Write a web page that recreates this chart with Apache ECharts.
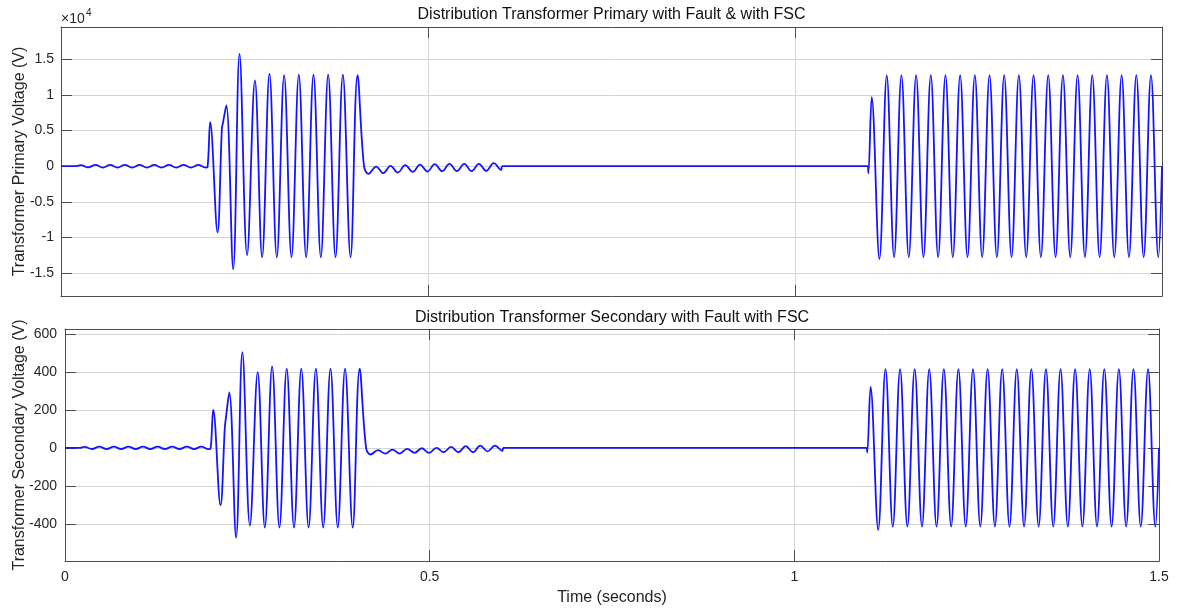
<!DOCTYPE html>
<html>
<head>
<meta charset="utf-8">
<title>Distribution Transformer with Fault & FSC</title>
<script src="https://cdn.jsdelivr.net/npm/echarts@6/dist/echarts.min.js"></script>
<style>
  html, body { margin: 0; padding: 0; background: #fff; }
  #chart { width: 1181px; height: 609px; }
</style>
</head>
<body>
<div id="chart"></div>
<script>
// ---- Waveform extrema (time in s, voltage in V) ----
// Pre-fault: small standing oscillation
const preFaultTime = [0, 0.020, 0.027, 0.037, 0.047, 0.057, 0.067, 0.077, 0.087, 0.097,
  0.107, 0.117, 0.127, 0.137, 0.147, 0.157, 0.167, 0.177, 0.187, 0.197];
const primaryPreFault = [0, 0, 160, -170, 180, -190, 180, -190, 180, -190,
  180, -190, 180, -190, 180, -190, 180, -190, 180, -200];
const secondaryPreFault = [0, 0, 5, -6, 6, -6, 6, -6, 6, -6,
  6, -6, 6, -6, 6, -6, 6, -6, 6, -7];

// Fault inception and full-voltage interval
const faultTime = [0.1995, 0.2032, 0.2132, 0.2192, 0.2207, 0.2252, 0.2346, 0.2432, 0.2535, 0.2642,
  0.2740, 0.2840, 0.2940, 0.3040, 0.3140, 0.3240, 0.3340, 0.3440, 0.3540, 0.3640,
  0.3740, 0.3840, 0.3945, 0.4040, 0.4128];
const primaryFault = [-150, 6170, -9250, 5300, 6100, 8500, -14440, 15740, -12480, 12000,
  -12760, 12940, -12760, 12760, -12760, 12800, -12760, 12800, -12760, 12800,
  -12760, 12800, -12760, 12760, 0];
const secondaryFault = [-5, 200, -303, 110, 160, 291, -472, 503, -409, 398,
  -419, 428, -419, 417, -419, 417, -419, 417, -419, 417,
  -419, 417, -419, 417, 0];

// Collapse: decaying residual ringing
const collapseTime = [0.4188, 0.4293, 0.4392, 0.4490, 0.4589, 0.4690, 0.4792, 0.4892, 0.4992, 0.5093,
  0.5193, 0.5293, 0.5394, 0.5494, 0.5594, 0.5694, 0.5794, 0.5895, 0.5995, 0.6005];
const primaryCollapse = [-1080, -50, -985, 40, -890, 135, -800, 230, -750, 275,
  -705, 320, -705, 320, -705, 320, -660, 415, -520, 0];
const secondaryCollapse = [-35, -12, -30, -9, -30, -5, -26, -2, -26, 0,
  -23, 5, -23, 9, -23, 12, -19, 12, -16, 0];

// Outage: zero voltage
const outageTime = [0.6005, 1.0995];
const outageValue = [0, 0];

// Reconnection
const reconnectTime = [1.0995, 1.1000, 1.1045, 1.1150, 1.1250, 1.1350, 1.1450, 1.1550, 1.1650, 1.1750,
  1.1850, 1.1950, 1.2050, 1.2150, 1.2250, 1.2350, 1.2450, 1.2550, 1.2650, 1.2750,
  1.2850, 1.2950, 1.3050, 1.3150, 1.3250, 1.3350, 1.3450, 1.3550, 1.3650, 1.3750,
  1.3850, 1.3950, 1.4050, 1.4150, 1.4250, 1.4350, 1.4450, 1.4550, 1.4650, 1.4750,
  1.4850, 1.4950, 1.5000];
const primaryReconnect = [0, -1000, 9670, -13000, 12700, -12760, 12750, -12760, 12750, -12760,
  12750, -12760, 12750, -12760, 12750, -12760, 12750, -12760, 12750, -12760,
  12750, -12760, 12750, -12760, 12750, -12760, 12750, -12760, 12750, -12760,
  12750, -12760, 12750, -12760, 12750, -12760, 12750, -12760, 12750, -12760,
  12750, -12760, 0];
const secondaryReconnect = [0, -25, 321, -431, 414, -414, 414, -414, 414, -414,
  414, -414, 414, -414, 414, -414, 414, -414, 414, -414,
  414, -414, 414, -414, 414, -414, 414, -414, 414, -414,
  414, -414, 414, -414, 414, -414, 414, -414, 414, -414,
  414, -414, 0];

// Axis ticks
const timeTicks = [0, 0.5, 1, 1.5];
const primaryTicks = [-15000, -10000, -5000, 0, 5000, 10000, 15000];
const secondaryTicks = [-400, -200, 0, 200, 400, 600];

const titles = ['Distribution Transformer Primary with Fault & with FSC',
  'Distribution Transformer Secondary with Fault with FSC'];
const yNames = ['Transformer Primary Voltage (V)', 'Transformer Secondary Voltage (V)'];
const xName = 'Time (seconds)';

// ---- helpers ----
const zip = (t, v) => t.map((x, i) => [x, v[i]]);
const FONT = "'Liberation Sans', Arial, Helvetica, sans-serif";
const AXIS_COLOR = '#4d4d4d';
const TEXT_COLOR = '#262626';
const GRID_COLOR = '#d4d4d4';
const WAVE_COLOR = '#1414ff';

const grids = [
  { left: 61, top: 27, width: 1101, height: 269, outerBoundsMode: 'none', containLabel: false },
  { left: 65, top: 329, width: 1094, height: 232, outerBoundsMode: 'none', containLabel: false }
];
const yRanges = [[-18180, 19490], [-595, 625]];
const yTicks = [primaryTicks, secondaryTicks];

const xAxes = [];
const yAxes = [];
grids.forEach((g, gi) => {
  const isBottom = gi === 1;
  xAxes.push({
    gridIndex: gi, type: 'value', position: 'bottom', min: 0, max: 1.5,
    axisLine: { show: true, onZero: false, lineStyle: { color: AXIS_COLOR, width: 1 } },
    axisTick: { show: true, inside: true, length: 11, customValues: timeTicks,
      lineStyle: { color: AXIS_COLOR } },
    axisLabel: { show: isBottom, customValues: timeTicks, fontSize: 14, color: TEXT_COLOR,
      fontFamily: FONT, margin: 9, formatter: v => String(v) },
    splitLine: { show: true, lineStyle: { color: GRID_COLOR, width: 1 } },
    name: isBottom ? xName : '', nameLocation: 'middle', nameGap: 29, nameMoveOverlap: false,
    nameTextStyle: { fontSize: 16, color: TEXT_COLOR, fontFamily: FONT }
  });
  xAxes.push({
    gridIndex: gi, type: 'value', position: 'top', min: 0, max: 1.5,
    axisLine: { show: true, onZero: false, lineStyle: { color: AXIS_COLOR, width: 1 } },
    axisTick: { show: true, inside: true, length: 11, customValues: timeTicks,
      lineStyle: { color: AXIS_COLOR } },
    axisLabel: { show: false }, splitLine: { show: false }
  });
  yAxes.push({
    gridIndex: gi, type: 'value', position: 'left', min: yRanges[gi][0], max: yRanges[gi][1],
    axisLine: { show: true, onZero: false, lineStyle: { color: AXIS_COLOR, width: 1 } },
    axisTick: { show: true, inside: true, length: 11, customValues: yTicks[gi],
      lineStyle: { color: AXIS_COLOR } },
    axisLabel: { show: true, customValues: yTicks[gi], fontSize: 14, color: TEXT_COLOR,
      fontFamily: FONT, margin: isBottom ? 8 : 7,
      formatter: v => gi === 0 ? String(v / 10000) : String(v) },
    splitLine: { show: true, lineStyle: { color: GRID_COLOR, width: 1 } },
    name: yNames[gi], nameLocation: 'middle', nameGap: isBottom ? 37 : 33, nameMoveOverlap: false,
    nameTextStyle: { fontSize: 16, color: TEXT_COLOR, fontFamily: FONT }
  });
  yAxes.push({
    gridIndex: gi, type: 'value', position: 'right', min: yRanges[gi][0], max: yRanges[gi][1],
    axisLine: { show: true, onZero: false, lineStyle: { color: AXIS_COLOR, width: 1 } },
    axisTick: { show: true, inside: true, length: 11, customValues: yTicks[gi],
      lineStyle: { color: AXIS_COLOR } },
    axisLabel: { show: false }, splitLine: { show: false }
  });
});

function waveSeries(gi, data, smooth) {
  return {
    type: 'line', xAxisIndex: gi * 2, yAxisIndex: gi * 2, data: data,
    smooth: smooth, showSymbol: false, symbol: 'none', clip: true,
    lineStyle: { color: WAVE_COLOR, width: 1.8 }, silent: true, z: 3
  };
}

const primaryEnergised = zip(preFaultTime, primaryPreFault)
  .concat(zip(faultTime, primaryFault), zip(collapseTime, primaryCollapse));
const secondaryEnergised = zip(preFaultTime, secondaryPreFault)
  .concat(zip(faultTime, secondaryFault), zip(collapseTime, secondaryCollapse));

const series = [
  waveSeries(0, primaryEnergised, 0.38),
  waveSeries(0, zip(outageTime, outageValue), false),
  waveSeries(0, zip(reconnectTime, primaryReconnect), 0.38),
  waveSeries(1, secondaryEnergised, 0.38),
  waveSeries(1, zip(outageTime, outageValue), false),
  waveSeries(1, zip(reconnectTime, secondaryReconnect), 0.38)
];

const chart = echarts.init(document.getElementById('chart'), null, { renderer: 'canvas' });
chart.setOption({
  backgroundColor: '#ffffff',
  animation: false,
  grid: grids,
  xAxis: xAxes,
  yAxis: yAxes,
  series: series,
  graphic: [
    { type: 'text', x: 611.5, y: 15, silent: true,
      style: { text: titles[0], textAlign: 'center', textVerticalAlign: 'middle',
        font: '16px ' + FONT, fill: '#111' } },
    { type: 'text', x: 612, y: 318, silent: true,
      style: { text: titles[1], textAlign: 'center', textVerticalAlign: 'middle',
        font: '16px ' + FONT, fill: '#111' } },
    { type: 'text', x: 61, y: 19, silent: true,
      style: { text: '×10', textAlign: 'left', textVerticalAlign: 'middle',
        font: '14px ' + FONT, fill: TEXT_COLOR } },
    { type: 'text', x: 86, y: 13, silent: true,
      style: { text: '4', textAlign: 'left', textVerticalAlign: 'middle',
        font: '10px ' + FONT, fill: TEXT_COLOR } }
  ]
});
</script>
</body>
</html>
